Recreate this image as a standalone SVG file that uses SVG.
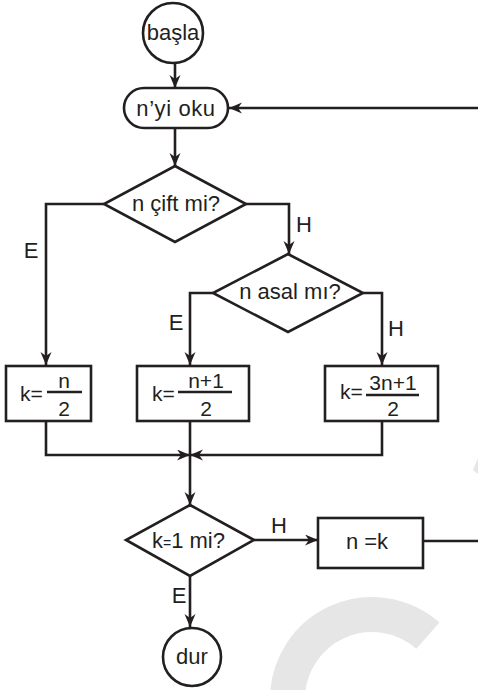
<svg xmlns="http://www.w3.org/2000/svg" width="478" height="690" viewBox="0 0 478 690">
<defs>
<marker id="ah" markerUnits="userSpaceOnUse" markerWidth="15" markerHeight="12" refX="13" refY="5.5" orient="auto">
<path d="M0,0 L13,5.5 L0,11 L4,5.5 z" fill="#231f20"/>
</marker>
<style>
.n{fill:#fff;stroke:#231f20;stroke-width:2.6}
.c{fill:none;stroke:#231f20;stroke-width:2.6}
.a{marker-end:url(#ah)}
text{font-family:"Liberation Sans",Arial,sans-serif;font-size:22px;fill:#231f20}
.m{text-anchor:middle}
.fr{font-size:21px}
.bar{stroke:#231f20;stroke-width:2.4}
</style>
</defs>
<rect width="478" height="690" fill="#fff"/>
<g id="watermark">
<path d="M427.9,635.7 A84.5,84.5 0 0 0 287.5,699" fill="none" stroke="#e6e6e6" stroke-width="35"/>
<polygon points="473,470 478,458 478,474" fill="#e6e6e6"/>
</g>
<g id="connectors">
<path class="c a" d="M175,63 V88"/>
<path class="c a" d="M175,128 V166"/>
<path class="c a" d="M104,204 H46 V365"/>
<path class="c a" d="M246,204 H289 V254"/>
<path class="c a" d="M213,293 H190 V365"/>
<path class="c a" d="M363,293 H382 V365"/>
<path class="c a" d="M46,421 V455 H190"/>
<path class="c a" d="M382,421 V455 H190"/>
<path class="c a" d="M190,421 V505"/>
<path class="c a" d="M254,540 H318"/>
<path class="c a" d="M190,576 V627"/>
<path class="c a" d="M423,541 H495 V108 H229"/>
<text x="31" y="258" class="m">E</text>
<text x="304" y="232" class="m">H</text>
<text x="176" y="330" class="m">E</text>
<text x="396" y="336" class="m">H</text>
<text x="279" y="533" class="m">H</text>
<text x="179" y="603" class="m">E</text>
</g>
<g id="basla">
<circle class="n" cx="173" cy="33" r="30"/>
<text x="173" y="40" class="m">başla</text>
</g>
<g id="oku">
<rect class="n" x="124" y="88" width="104" height="40" rx="20"/>
<text x="176" y="116" class="m" letter-spacing="0.6">n’yi oku</text>
</g>
<g id="cift">
<polygon class="n" points="175,166 246,204 175,242 104,204"/>
<text x="176" y="211" class="m">n çift mi?</text>
</g>
<g id="asal">
<polygon class="n" points="288,254 363,293 288,332 213,293"/>
<text x="290" y="299" class="m">n asal mı?</text>
</g>
<g id="box1">
<rect class="n" x="6" y="366" width="85" height="55"/>
<text x="20" y="401" class="fr">k=</text>
<line class="bar" x1="47" y1="392" x2="82" y2="392"/>
<text x="64" y="388" class="fr m">n</text>
<text x="64" y="416" class="fr m">2</text>
</g>
<g id="box2">
<rect class="n" x="137" y="366" width="112" height="55"/>
<text x="152" y="401" class="fr">k=</text>
<line class="bar" x1="178" y1="392" x2="232" y2="392"/>
<text x="206" y="388" class="fr m">n+1</text>
<text x="206" y="416" class="fr m">2</text>
</g>
<g id="box3">
<rect class="n" x="325" y="366" width="113" height="55"/>
<text x="340" y="399" class="fr">k=</text>
<line class="bar" x1="366" y1="395" x2="419" y2="395"/>
<text x="393" y="390" class="fr m">3n+1</text>
<text x="393" y="416" class="fr m">2</text>
</g>
<g id="k1">
<polygon class="n" points="190,505 254,540 190,576 126,540"/>
<text x="152" y="548">k<tspan font-size="14">=</tspan>1 mi?</text>
</g>
<g id="nk">
<rect class="n" x="318" y="518" width="105" height="50"/>
<text x="367" y="549" class="m">n =k</text>
</g>
<g id="dur">
<circle class="n" cx="192" cy="657" r="29"/>
<text x="192" y="664" class="m">dur</text>
</g>
</svg>
